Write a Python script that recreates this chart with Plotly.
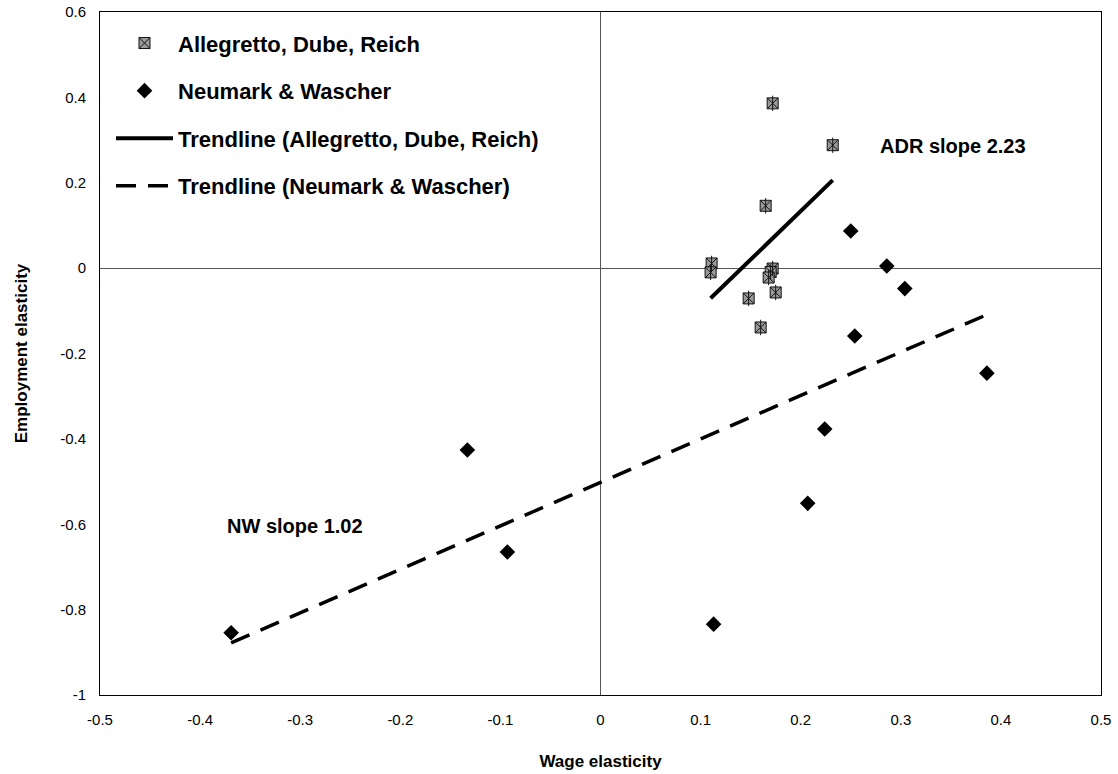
import numpy as np
import plotly.graph_objects as go

# Allegretto, Dube, Reich (wage elasticity, employment elasticity)
adr_wage = [0.172, 0.232, 0.165, 0.111, 0.110, 0.172, 0.170, 0.168, 0.175, 0.148, 0.160]
adr_emp = [0.386, 0.288, 0.146, 0.011, -0.010, -0.001, -0.009, -0.022, -0.057, -0.071, -0.139]

# Neumark & Wascher
nw_wage = [0.250, 0.286, 0.304, 0.254, 0.386, 0.224, 0.207, 0.113, -0.133, -0.093, -0.369]
nw_emp = [0.087, 0.005, -0.048, -0.159, -0.246, -0.377, -0.551, -0.834, -0.426, -0.665, -0.854]

x_ticks = [-0.5, -0.4, -0.3, -0.2, -0.1, 0, 0.1, 0.2, 0.3, 0.4, 0.5]
x_ticktext = ["-0.5", "-0.4", "-0.3", "-0.2", "-0.1", "0", "0.1", "0.2", "0.3", "0.4", "0.5"]
y_ticks = [-1, -0.8, -0.6, -0.4, -0.2, 0, 0.2, 0.4, 0.6]
y_ticktext = ["-1", "-0.8", "-0.6", "-0.4", "-0.2", "0", "0.2", "0.4", "0.6"]

adr_label = "ADR slope 2.23"
nw_label = "NW slope 1.02"


def trend(xs, ys):
    m, b = np.polyfit(xs, ys, 1)
    xx = np.array([min(xs), max(xs)])
    return xx, m * xx + b


adr_tx, adr_ty = trend(adr_wage, adr_emp)
nw_tx, nw_ty = trend(nw_wage, nw_emp)

FONT = "Liberation Sans, Arial, sans-serif"

fig = go.Figure()
fig.add_trace(go.Scatter(
    x=adr_wage, y=adr_emp, mode="markers", name="Allegretto, Dube, Reich",
    legendgroup="a",
    marker=dict(symbol="square-x", size=11, color="#9a9a9a",
                line=dict(color="#111111", width=1)),
))
fig.add_trace(go.Scatter(
    x=adr_wage, y=adr_emp, mode="markers", showlegend=False, hoverinfo="skip",
    legendgroup="a",
    marker=dict(symbol="line-ns", size=11, color="#111111",
                line=dict(color="#111111", width=1)),
))
fig.add_trace(go.Scatter(
    x=nw_wage, y=nw_emp, mode="markers", name="Neumark & Wascher",
    legendgroup="b",
    marker=dict(symbol="diamond", size=12, color="black"),
))
fig.add_trace(go.Scatter(
    x=adr_tx, y=adr_ty, mode="lines", name="Trendline (Allegretto, Dube, Reich)",
    legendgroup="c",
    line=dict(color="black", width=4),
))
fig.add_trace(go.Scatter(
    x=nw_tx, y=nw_ty, mode="lines", name="Trendline (Neumark & Wascher)",
    legendgroup="d",
    line=dict(color="black", width=3.5, dash="20px,12px"),
))

fig.add_annotation(x=0.277, y=0.287, text=adr_label, showarrow=False,
                   xanchor="left", yanchor="middle",
                   font=dict(family=FONT, size=20, color="black", weight="bold"))
fig.add_annotation(x=-0.375, y=-0.603, text=nw_label, showarrow=False,
                   xanchor="left", yanchor="middle",
                   font=dict(family=FONT, size=20, color="black", weight="bold"))

axis_common = dict(
    showgrid=False, showline=True, linecolor="black", linewidth=1, mirror=True,
    zeroline=True, zerolinecolor="#555555", zerolinewidth=1,
    ticks="", tickfont=dict(family=FONT, size=15, color="black"),
    automargin=False,
)

fig.update_xaxes(range=[-0.5, 0.5], tickvals=x_ticks, ticktext=x_ticktext,
                 ticklabelstandoff=11,
                 title=dict(text="Wage elasticity", standoff=28,
                            font=dict(family=FONT, size=17, color="black", weight="bold")),
                 **axis_common)
fig.update_yaxes(range=[-1, 0.6], tickvals=y_ticks, ticktext=y_ticktext,
                 ticklabelstandoff=10,
                 title=dict(text="Employment elasticity", standoff=28,
                            font=dict(family=FONT, size=17, color="black", weight="bold")),
                 **axis_common)

fig.update_layout(
    width=1118, height=774,
    margin=dict(l=100, r=17, t=12, b=79, autoexpand=False),
    paper_bgcolor="white", plot_bgcolor="white",
    font=dict(family=FONT, color="black"),
    legend=dict(x=0.011, y=0.985, xanchor="left", yanchor="top",
                bgcolor="rgba(0,0,0,0)", tracegroupgap=16, itemwidth=57,
                font=dict(family=FONT, size=22, color="black", weight="bold")),
    showlegend=True,
)

fig.write_html(
    "out.html",
    config={"displayModeBar": False},
    post_script="document.body.style.margin='0';document.body.style.overflow='hidden';",
)
